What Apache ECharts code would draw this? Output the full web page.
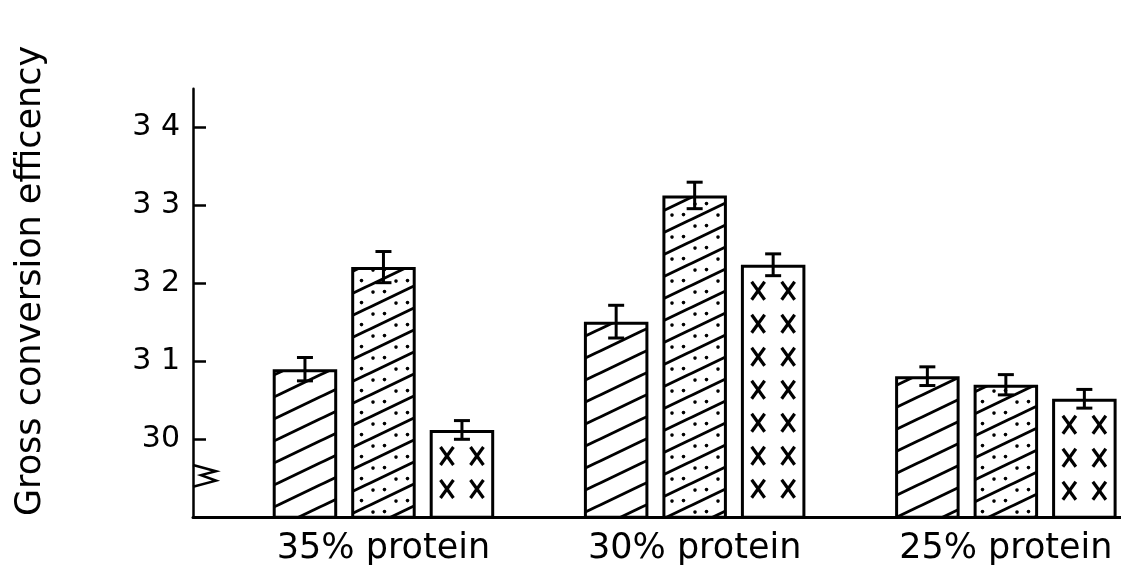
<!DOCTYPE html>
<html><head><meta charset="utf-8">
<script src="https://cdn.jsdelivr.net/npm/echarts@6/dist/echarts.min.js"></script>
<style>html,body{margin:0;padding:0;background:#fff}#c{width:1121px;height:575px}</style>
</head><body><div id="c"></div>
<script>
// ---- data ----
const categories = ['35% protein', '30% protein', '25% protein'];
const yTickValues = [30, 31, 32, 33, 34];
const yTickLabels = ['30', '3 1', '3 2', '3 3', '3 4'];
const yName = 'Gross conversion efficency';
const seriesNames = ['Hatched', 'Hatched dotted', 'Crossed'];
const meanHatched = [30.90, 31.51, 30.81];
const errHatched  = [0.15, 0.21, 0.12];
const meanDotted  = [32.21, 33.13, 30.70];
const errDotted   = [0.20, 0.17, 0.13];
const meanCross   = [30.12, 32.24, 30.52];
const errCross    = [0.12, 0.14, 0.12];

// ---- style / layout constants ----
const AXIS_MIN = 29, AXIS_MAX = 34.5;
const BAR_W = 64.5, BAR_GAP_PX = 14;
const STEP = BAR_W + BAR_GAP_PX;
const FONT = 'DejaVu Sans';

function hatchPattern(withDots) {
  const W = 46, H = 22;
  const c = document.createElement('canvas'); c.width = W; c.height = H;
  const g = c.getContext('2d');
  g.fillStyle = '#fff'; g.fillRect(0, 0, W, H);
  g.strokeStyle = '#000'; g.lineWidth = 2.9;
  for (let k = -3; k <= 3; k++) {
    g.beginPath(); g.moveTo(-W, 2 * H + k * H); g.lineTo(2 * W, -H + k * H); g.stroke();
  }
  if (withDots) {
    g.fillStyle = '#000';
    const xs = [5, 16.5, 28, 39.5];
    xs.forEach((x, i) => {
      let y = 1.5 * H - x * H / W + (i % 2 ? 2.5 : -2.5);
      y = ((y % H) + H) % H;
      [-H, 0, H].forEach(d => { g.beginPath(); g.arc(x, y + d, 1.8, 0, Math.PI * 2); g.fill(); });
    });
  }
  return { image: c, repeat: 'repeat' };
}

const toXY = arr => arr.map((v, i) => [i + 1, v]);
const errData = [];
[[meanHatched, errHatched], [meanDotted, errDotted], [meanCross, errCross]].forEach((pair, s) => {
  pair[0].forEach((m, i) => errData.push([i + 1, m, pair[1][i], s]));
});

function renderErr(params, api) {
  const x = api.value(0), m = api.value(1), e = api.value(2), slot = api.value(3);
  const cx = api.coord([x, m])[0] + (slot - 1) * STEP;
  const yt = api.coord([x, m + e])[1], yb = api.coord([x, m - e])[1];
  const hw = 8;
  const st = { stroke: '#000', lineWidth: 3 };
  return { type: 'group', children: [
    { type: 'line', shape: { x1: cx, y1: yt, x2: cx, y2: yb }, style: st },
    { type: 'line', shape: { x1: cx - hw, y1: yt, x2: cx + hw, y2: yt }, style: st },
    { type: 'line', shape: { x1: cx - hw, y1: yb, x2: cx + hw, y2: yb }, style: st }
  ]};
}

function renderCross(params, api) {
  const x = api.value(0), m = api.value(1);
  const cx = api.coord([x, m])[0] + STEP;
  const top = api.coord([x, m])[1];
  const bottom = api.coord([x, AXIS_MIN])[1];
  const children = [];
  const st = { stroke: '#000', lineWidth: 3.2 };
  for (let y = top + 26; y < bottom - 14; y += 33) {
    [-15, 15].forEach(dx => {
      const px = cx + dx;
      children.push({ type: 'line', shape: { x1: px - 6.5, y1: y - 9, x2: px + 6.5, y2: y + 9 }, style: st });
      children.push({ type: 'line', shape: { x1: px + 6.5, y1: y - 9, x2: px - 6.5, y2: y + 9 }, style: st });
    });
  }
  return { type: 'group', children };
}

const chart = echarts.init(document.getElementById('c'), null, { renderer: 'canvas' });
const barCommon = { type: 'bar', barWidth: BAR_W, barGap: (BAR_GAP_PX / BAR_W * 100).toFixed(1) + '%' };
chart.setOption({
  animation: false,
  backgroundColor: '#fff',
  grid: { left: 193, right: 0, top: 88.7, bottom: 57.8 },
  xAxis: {
    type: 'value', min: 0.388, max: 3.37,
    axisLine: { show: true, onZero: false, lineStyle: { color: '#000', width: 3 } },
    axisTick: { show: false }, splitLine: { show: false },
    axisLabel: { customValues: [1, 2, 3], formatter: v => categories[Math.round(v) - 1],
      fontSize: 35, fontFamily: FONT, color: '#000', margin: 14 }
  },
  yAxis: {
    type: 'value', min: AXIS_MIN, max: AXIS_MAX, interval: 1,
    axisLine: { show: true, lineStyle: { color: '#000', width: 2.5 } },
    axisTick: { show: true, inside: true, length: 13, customValues: yTickValues, lineStyle: { color: '#000', width: 2.5 } },
    axisLabel: { customValues: yTickValues, formatter: v => yTickLabels[yTickValues.indexOf(v)],
      color: '#000', fontSize: 30, fontFamily: FONT, margin: 13, padding: [12, 0, 0, 0] },
    splitLine: { show: false },
    name: yName, nameLocation: 'middle', nameGap: 145, nameRotate: 90,
    nameTextStyle: { fontSize: 35, color: '#000', fontFamily: FONT, padding: [0, 0, 0, 44] }
  },
  series: [
    Object.assign({}, barCommon, { name: seriesNames[0], data: toXY(meanHatched),
      itemStyle: { color: hatchPattern(false), borderColor: '#000', borderWidth: 3 } }),
    Object.assign({}, barCommon, { name: seriesNames[1], data: toXY(meanDotted),
      itemStyle: { color: hatchPattern(true), borderColor: '#000', borderWidth: 3 } }),
    Object.assign({}, barCommon, { name: seriesNames[2], data: toXY(meanCross),
      itemStyle: { color: '#fff', borderColor: '#000', borderWidth: 3 } }),
    { type: 'custom', name: 'crosses', z: 5, renderItem: renderCross, data: toXY(meanCross), encode: { x: 0, y: 1 } },
    { type: 'custom', name: 'error bars', z: 6, renderItem: renderErr, data: errData, encode: { x: 0, y: 1 } }
  ]
});

// axis-break zigzag on the y axis
const ax = chart.convertToPixel({ xAxisIndex: 0 }, 0.388);
const py = v => chart.convertToPixel({ yAxisIndex: 0 }, v);
chart.setOption({ graphic: [{ type: 'polyline', z: 10,
  shape: { points: [[ax, py(29.67)], [ax + 23, py(29.59)], [ax + 8, py(29.54)], [ax + 23, py(29.47)], [ax, py(29.39)]] },
  style: { stroke: '#000', lineWidth: 2.5, fill: null } }] });
</script>
</body></html>
